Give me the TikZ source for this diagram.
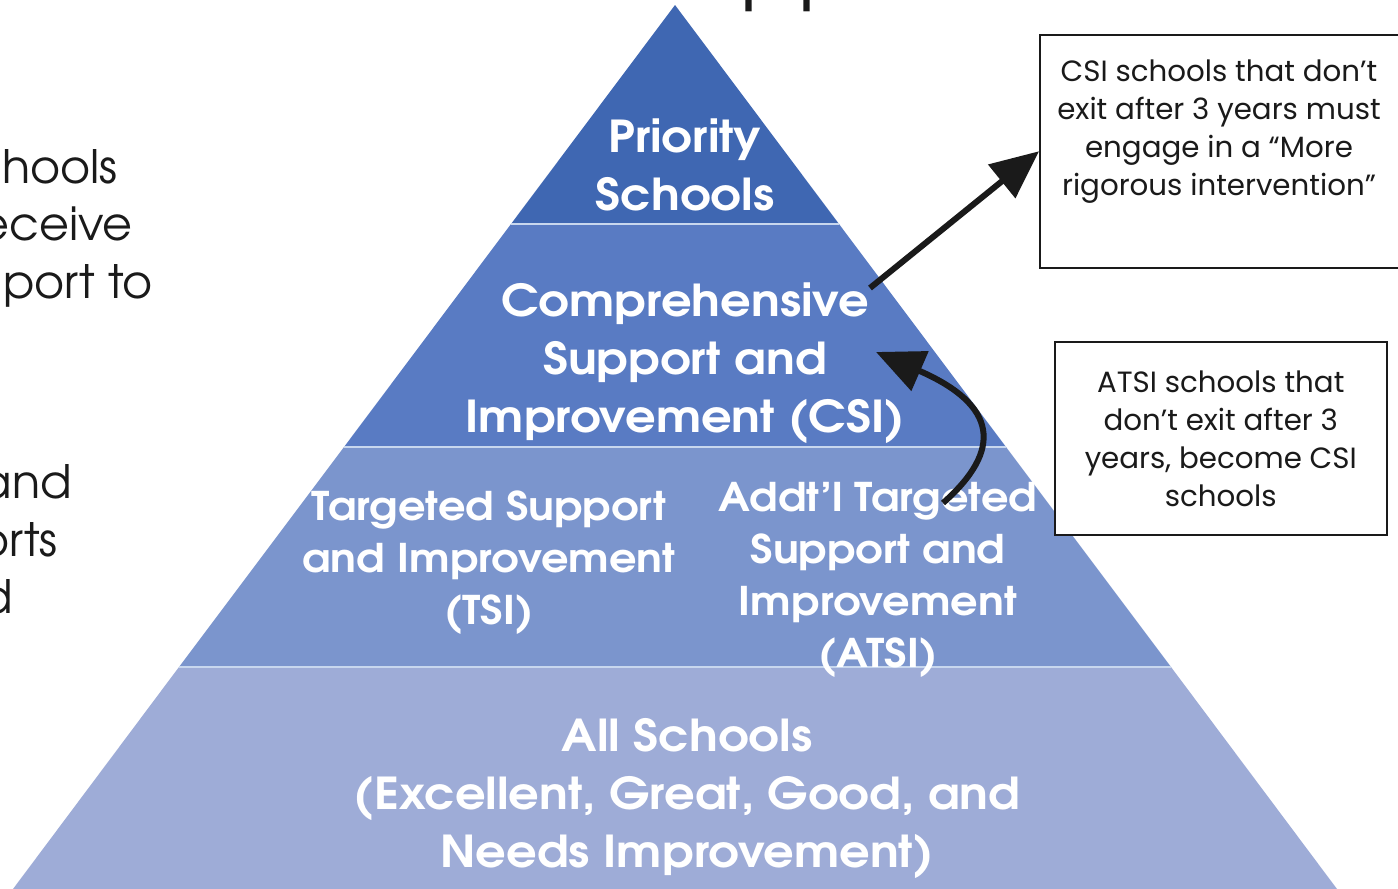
\documentclass[tikz,border=0pt]{standalone}
\usepackage{fontspec}
\setmainfont{Poppins}
\newfontfamily\gothic{texgyreadventor}[Extension=.otf,UprightFont=*-regular,BoldFont=*-bold]
\newfontfamily\gothicwide{texgyreadventor}[Extension=.otf,UprightFont=*-regular,BoldFont=*-bold,FakeStretch=1.09]
\usetikzlibrary{arrows.meta}
\definecolor{pri}{HTML}{3F67B2}
\definecolor{csic}{HTML}{597BC3}
\definecolor{tsic}{HTML}{7B95CD}
\definecolor{allc}{HTML}{9EACD7}
\definecolor{sepc}{HTML}{C8D7EE}
\definecolor{ink}{HTML}{1A1A1A}
\begin{document}
\begin{tikzpicture}[x=1pt,y=-1pt,
  tier/.style={text=white,font=\gothicwide\bfseries\fontsize{44}{58}\selectfont,align=center,inner sep=0pt},
  tiersm/.style={text=white,font=\gothicwide\bfseries\fontsize{39.5}{52}\selectfont,align=center,inner sep=0pt},
  notebox/.style={draw=ink,line width=1.5pt,fill=white,inner sep=0pt},
  notetext/.style={font=\fontsize{29.3}{38}\selectfont,align=center,text=ink,inner sep=0pt},
  side/.style={font=\gothic\fontsize{46}{58}\selectfont,text=ink,inner sep=0pt,anchor=base east},
  sepline/.style={draw=sepc,line width=2.5pt},
  arr/.style={line width=6pt,draw=ink,-{Triangle[length=48pt,width=42pt]}}]
\useasboundingbox (0,0) rectangle (1398,889);
\clip (0,0) rectangle (1398,889);
\fill[white] (0,0) rectangle (1398,889);

% cut-off title
\node[font=\gothic\fontsize{85}{85}\selectfont,text=ink,anchor=base west,inner sep=0pt] (ttl) at (740,-5) {pp};

% left text fragments
\node[side] (l1) at (118,183) {hools};
\node[side] (l2) at (133,240) {eceive};
\node[side] (l3) at (153,298) {port to};
\node[side] (l4) at (72,498) {and};
\node[side] (l5) at (58,556) {orts};
\node[side] (l6) at (13,613) {d};

% pyramid
\fill[pri] (675,5) -- (839,224) -- (511,224) -- cycle;
\fill[csic] (511,224) -- (839,224) -- (1006,447) -- (344,447) -- cycle;
\fill[tsic] (344,447) -- (1006,447) -- (1171,667) -- (179,667) -- cycle;
\fill[allc] (179,667) -- (1171,667) -- (1337,889) -- (13,889) -- cycle;
\draw[sepline] (511,224) -- (839,224);
\draw[sepline] (344,447) -- (1006,447);
\draw[sepline] (179,667) -- (1171,667);

\node[tier] (pri) at (685,165) {Priority\\Schools};
\node[tier] (csi) at (685,363) {Comprehensive\\Support and\\Improvement (CSI)};
\node[tiersm] (tsi) at (489,563) {Targeted Support\\and Improvement\\(TSI)};
\node[tiersm] (atsi) at (878,580) {Addt’l Targeted\\Support and\\Improvement\\(ATSI)};
\node[tier] (all) at (687,799) {All Schools\\(Excellent, Great, Good, and\\Needs Improvement)};

% notes
\node[notebox,minimum width=360pt,minimum height=233pt,anchor=north west] (b1) at (1039,34) {};
\node[notetext] (t1) at (1219,132) {CSI schools that don’t\\exit after 3 years must\\engage in a “More\\rigorous intervention”};
\node[notebox,minimum width=332pt,minimum height=193pt,anchor=north west] (b2) at (1054,341) {};
\node[notetext] (t2) at ([yshift=-1pt]b2.center) {ATSI schools that\\don’t exit after 3\\years, become CSI\\schools};

% arrows
\coordinate (a1s) at (870,288);
\coordinate (a2s) at (943,503);
\coordinate (a2e) at (876,352);
\draw[arr] (a1s) -- (b1.west);
\draw[arr] (a2s) .. controls (1003,450) and (998,405) .. (a2e);
\end{tikzpicture}
\end{document}
